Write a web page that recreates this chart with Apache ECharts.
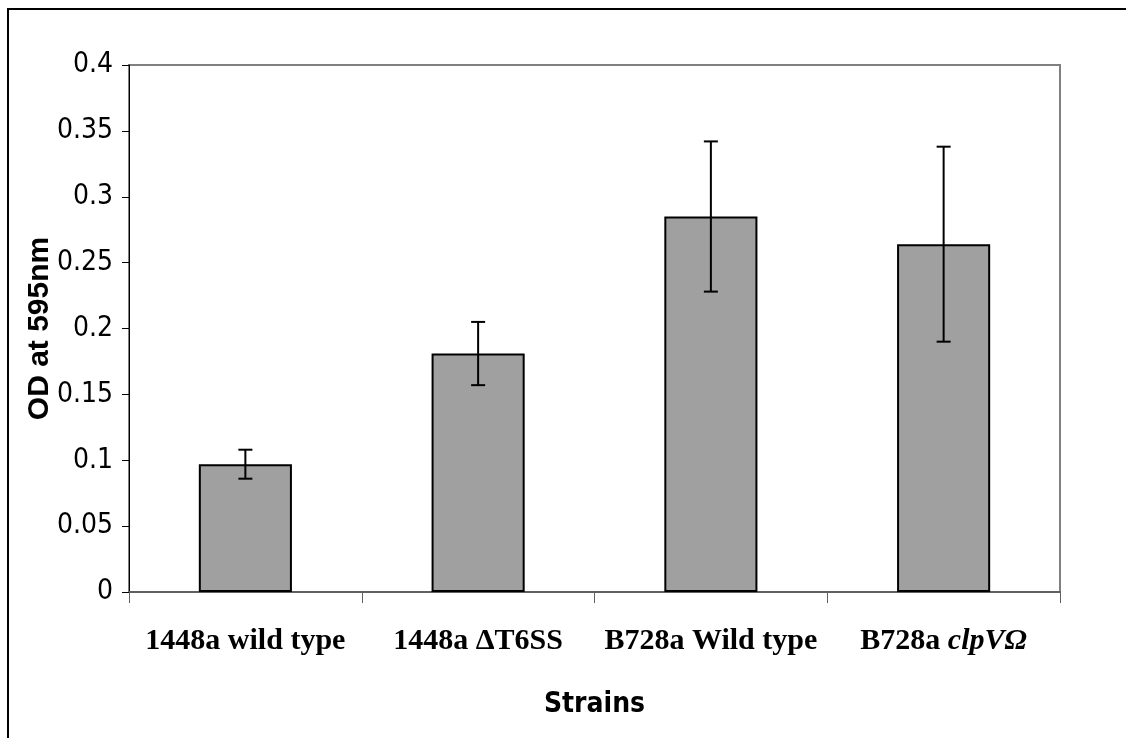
<!DOCTYPE html>
<html>
<head>
<meta charset="utf-8">
<script src="https://cdn.jsdelivr.net/npm/echarts@6/dist/echarts.min.js"></script>
<style>
  html, body { margin: 0; padding: 0; background: #fff; }
  #container { width: 1126px; height: 738px; }
</style>
</head>
<body>
<div id="container"></div>
<script>
// strains on the x axis
var strains = ['1448a wild type', '1448a \u0394T6SS', 'B728a Wild type', 'B728a clpV\u03a9']
// mean OD at 595nm
var odMeans = [0.097, 0.181, 0.285, 0.264]
// +/- error
var odErrors = [0.011, 0.024, 0.057, 0.074]
var yTicks = [0, 0.05, 0.1, 0.15, 0.2, 0.25, 0.3, 0.35, 0.4]

var chart = echarts.init(document.getElementById('container'))

var errData = odMeans.map(function (m, i) {
  return [i, m - odErrors[i], m + odErrors[i]]
})

var narrow = 'Liberation Sans Narrow, Arial Narrow, DejaVu Sans Condensed, Liberation Sans, sans-serif'

var option = {
  animation: false,
  backgroundColor: '#fff',
  graphic: [{
    type: 'rect',
    shape: { x: 8, y: 9, width: 1300, height: 900 },
    style: { fill: 'none', stroke: '#000', lineWidth: 2 },
    silent: true
  }],
  grid: {
    left: 129, right: 66, top: 65, bottom: 146,
    show: true, borderColor: '#808080', borderWidth: 2
  },
  xAxis: {
    type: 'category',
    data: strains,
    name: 'Strains',
    nameLocation: 'middle',
    nameGap: 99,
    nameMoveOverlap: false,
    nameTextStyle: { fontFamily: narrow, fontWeight: 'bold', fontSize: 28, color: '#000' },
    axisLine: { lineStyle: { color: '#606060', width: 2 } },
    axisTick: { show: true, interval: 0, length: 11, lineStyle: { color: '#606060', width: 1 } },
    axisLabel: {
      interval: 0,
      margin: 34,
      fontFamily: 'Liberation Serif, Times New Roman, serif',
      fontWeight: 'bold',
      fontSize: 30,
      color: '#000',
      formatter: function (v) {
        if (v.indexOf('clpV') >= 0) return 'B728a {i|clpV\u03a9}'
        return v
      },
      rich: {
        i: { fontFamily: 'Liberation Serif, Times New Roman, serif', fontWeight: 'bold', fontStyle: 'italic', fontSize: 30, color: '#000' }
      }
    }
  },
  yAxis: {
    type: 'value',
    min: 0, max: 0.4, interval: 0.05,
    name: 'OD at 595nm',
    nameLocation: 'middle',
    nameGap: 74,
    nameMoveOverlap: false,
    nameRotate: 90,
    nameTextStyle: { fontFamily: 'Liberation Sans, Arial, sans-serif', fontWeight: 'bold', fontSize: 30, color: '#000' },
    axisLine: { show: true, lineStyle: { color: '#000', width: 1 } },
    axisTick: { show: true, length: 7, lineStyle: { color: '#000', width: 1 } },
    splitLine: { show: false },
    axisLabel: {
      margin: 16,
      fontFamily: narrow,
      fontSize: 28,
      color: '#000',
      formatter: function (v) {
        var t = yTicks.find(function (k) { return Math.abs(k - v) < 1e-9 })
        return String(t === undefined ? v : t)
      }
    }
  },
  series: [{
    type: 'bar',
    data: odMeans,
    barWidth: '40%',
    itemStyle: { color: '#a0a0a0', borderColor: '#000', borderWidth: 2 },
    z: 2
  }, {
    type: 'custom',
    data: errData,
    z: 5,
    renderItem: function (params, api) {
      var x = api.value(0)
      var lo = api.coord([x, api.value(1)])
      var hi = api.coord([x, api.value(2)])
      var cap = 7
      var st = { stroke: '#000', lineWidth: 2 }
      return {
        type: 'group',
        children: [
          { type: 'line', shape: { x1: hi[0], y1: hi[1], x2: lo[0], y2: lo[1] }, style: st },
          { type: 'line', shape: { x1: hi[0] - cap, y1: hi[1], x2: hi[0] + cap, y2: hi[1] }, style: st },
          { type: 'line', shape: { x1: lo[0] - cap, y1: lo[1], x2: lo[0] + cap, y2: lo[1] }, style: st }
        ]
      }
    }
  }]
}

chart.setOption(option)
</script>
</body>
</html>
